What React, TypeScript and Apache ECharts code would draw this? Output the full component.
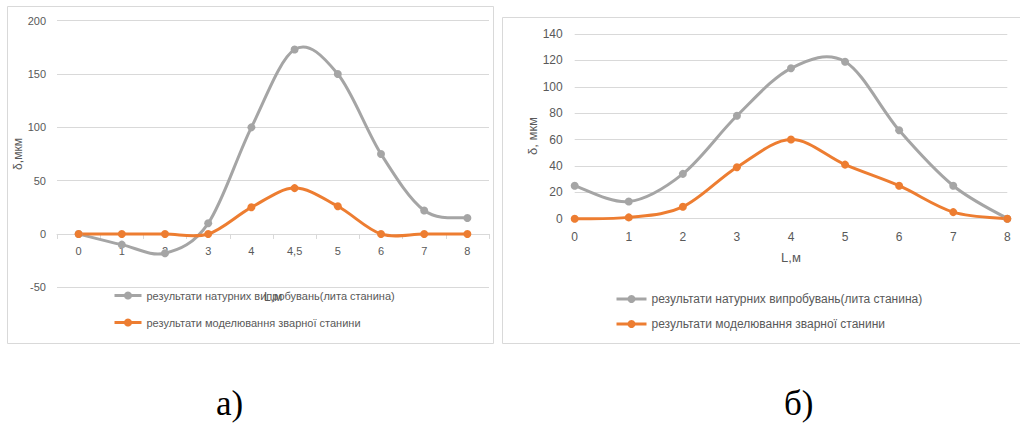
import React, { useEffect, useRef } from "react";
import * as echarts from "echarts";

const SERIES_TEST = "результати натурних випробувань(лита станина)";
const SERIES_MODEL = "результати моделювання зварної станини";

// Chart а)
const LEFT_CATEGORIES = ["0", "1", "2", "3", "4", "4,5", "5", "6", "7", "8"];
const LEFT_TEST = [0, -10, -18, 10, 100, 173, 150, 75, 22, 15];
const LEFT_MODEL = [0, 0, 0, 0, 25, 43, 26, 0, 0, 0];
const LEFT_Y = { min: -50, max: 200, interval: 50 };

// Chart б)
const RIGHT_CATEGORIES = ["0", "1", "2", "3", "4", "5", "6", "7", "8"];
const RIGHT_TEST = [25, 13, 34, 78, 114, 119, 67, 25, 0];
const RIGHT_MODEL = [0, 1, 9, 39, 60, 41, 25, 5, 0];
const RIGHT_Y = { min: 0, max: 140, interval: 20 };

const GRAY = "#A5A5A5";
const ORANGE = "#ED7D31";
const TEXT = "#595959";
const GRID = "#D9D9D9";
const FONT = "'Liberation Sans', Arial, sans-serif";

export default function App() {
  const ref = useRef<HTMLDivElement>(null);

  useEffect(() => {
    document.body.style.margin = "0";
    if (!ref.current) return;
    const chart = echarts.init(ref.current, undefined, { renderer: "svg" });

    // markers (and legend entry) drawn by a line series
    const markerSeries = (
      name: string,
      data: number[],
      color: string,
      idx: number
    ) => ({
      name,
      type: "line",
      xAxisIndex: idx,
      yAxisIndex: idx,
      data,
      symbol: "circle",
      symbolSize: 8,
      lineStyle: { color, width: 3, opacity: 0 },
      itemStyle: { color },
      z: 4,
    });

    // Excel-like smoothed curve (Catmull-Rom bezier through the points)
    const curveSeries = (data: number[], color: string, idx: number) => ({
      type: "custom",
      coordinateSystem: "cartesian2d",
      xAxisIndex: idx,
      yAxisIndex: idx,
      data: data.map((v, i) => [i, v]),
      silent: true,
      z: 3,
      renderItem: (params: any, api: any) => {
        if (params.dataIndex !== 0) return null;
        const pts = data.map((v, i) => api.coord([i, v]));
        const n = pts.length;
        let d = `M${pts[0][0]},${pts[0][1]}`;
        for (let i = 0; i < n - 1; i++) {
          const p0 = pts[Math.max(i - 1, 0)];
          const p1 = pts[i];
          const p2 = pts[i + 1];
          const p3 = pts[Math.min(i + 2, n - 1)];
          const c1x = p1[0] + (p2[0] - p0[0]) / 6;
          const c1y = p1[1] + (p2[1] - p0[1]) / 6;
          const c2x = p2[0] - (p3[0] - p1[0]) / 6;
          const c2y = p2[1] - (p3[1] - p1[1]) / 6;
          d += ` C${c1x},${c1y} ${c2x},${c2y} ${p2[0]},${p2[1]}`;
        }
        return {
          type: "path",
          shape: { pathData: d },
          style: {
            stroke: color,
            lineWidth: 3,
            fill: "none",
            lineJoin: "round",
            lineCap: "round",
          },
        };
      },
    });

    const legendCommon = {
      orient: "vertical",
      itemHeight: 10,
      data: [SERIES_TEST, SERIES_MODEL],
      lineStyle: { opacity: 1, width: 3 },
    };

    chart.setOption({
      animation: false,
      backgroundColor: "#ffffff",
      textStyle: { fontFamily: FONT },
      grid: [
        { left: 57, right: 531, top: 20.7, bottom: 135.7 },
        { left: 574.7, right: 12.7, top: 34, bottom: 204.3 },
      ],
      xAxis: [
        {
          type: "category",
          gridIndex: 0,
          data: LEFT_CATEGORIES,
          boundaryGap: true,
          offset: -53.33,
          axisLine: { onZero: false, lineStyle: { color: GRID, width: 1 } },
          axisTick: { show: true, length: 5, lineStyle: { color: GRID } },
          axisLabel: { color: TEXT, fontSize: 11, margin: 12, fontFamily: FONT },
          name: "L,м",
          nameLocation: "middle",
          nameGap: 57,
          nameTextStyle: { color: TEXT, fontSize: 12, fontFamily: FONT },
        },
        {
          type: "category",
          gridIndex: 1,
          data: RIGHT_CATEGORIES,
          boundaryGap: false,
          axisLine: { onZero: false, lineStyle: { color: GRID, width: 1 } },
          axisTick: { show: false },
          axisLabel: { color: TEXT, fontSize: 12, margin: 12, fontFamily: FONT },
          name: "L,м",
          nameLocation: "middle",
          nameGap: 32,
          nameTextStyle: { color: TEXT, fontSize: 13, fontFamily: FONT },
        },
      ],
      yAxis: [
        {
          type: "value",
          gridIndex: 0,
          min: LEFT_Y.min,
          max: LEFT_Y.max,
          interval: LEFT_Y.interval,
          axisLine: { show: false },
          axisTick: { show: false },
          splitLine: { lineStyle: { color: GRID, width: 1 } },
          axisLabel: { color: TEXT, fontSize: 11, margin: 11, fontFamily: FONT },
          name: "δ,мкм",
          nameLocation: "middle",
          nameGap: 30,
          nameTextStyle: { color: TEXT, fontSize: 12, fontFamily: FONT },
        },
        {
          type: "value",
          gridIndex: 1,
          min: RIGHT_Y.min,
          max: RIGHT_Y.max,
          interval: RIGHT_Y.interval,
          axisLine: { show: false },
          axisTick: { show: false },
          splitLine: { lineStyle: { color: GRID, width: 1 } },
          axisLabel: { color: TEXT, fontSize: 12, margin: 12, fontFamily: FONT },
        },
      ],
      legend: [
        {
          ...legendCommon,
          left: 108,
          top: 285,
          itemWidth: 27,
          itemGap: 16,
          textStyle: { color: TEXT, fontSize: 11, fontFamily: FONT },
        },
        {
          ...legendCommon,
          left: 610,
          top: 288,
          itemWidth: 30,
          itemGap: 13,
          textStyle: { color: TEXT, fontSize: 12, fontFamily: FONT },
        },
      ],
      graphic: [
        {
          type: "rect",
          shape: { x: 7.5, y: 6.5, width: 486, height: 337 },
          style: { fill: "none", stroke: GRID, lineWidth: 1 },
          silent: true,
          z: -1,
        },
        {
          type: "rect",
          shape: { x: 502.5, y: 17.5, width: 530, height: 326 },
          style: { fill: "none", stroke: GRID, lineWidth: 1 },
          silent: true,
          z: -1,
        },
        {
          type: "text",
          x: 532,
          y: 136,
          rotation: Math.PI / 2,
          style: {
            text: "δ, мкм",
            fill: TEXT,
            font: `13px ${FONT}`,
            align: "center",
            verticalAlign: "middle",
          },
        },
        {
          type: "text",
          x: 216,
          y: 403,
          style: {
            text: "а)",
            fill: "#000",
            font: "35px 'Liberation Serif', 'Times New Roman', serif",
            align: "left",
            verticalAlign: "middle",
          },
        },
        {
          type: "text",
          x: 784,
          y: 403,
          style: {
            text: "б)",
            fill: "#000",
            font: "35px 'Liberation Serif', 'Times New Roman', serif",
            align: "left",
            verticalAlign: "middle",
          },
        },
      ],
      series: [
        markerSeries(SERIES_TEST, LEFT_TEST, GRAY, 0),
        markerSeries(SERIES_MODEL, LEFT_MODEL, ORANGE, 0),
        markerSeries(SERIES_TEST, RIGHT_TEST, GRAY, 1),
        markerSeries(SERIES_MODEL, RIGHT_MODEL, ORANGE, 1),
        curveSeries(LEFT_TEST, GRAY, 0),
        curveSeries(LEFT_MODEL, ORANGE, 0),
        curveSeries(RIGHT_TEST, GRAY, 1),
        curveSeries(RIGHT_MODEL, ORANGE, 1),
      ],
    });

    return () => chart.dispose();
  }, []);

  return <div ref={ref} style={{ width: 1020, height: 423 }} />;
}
